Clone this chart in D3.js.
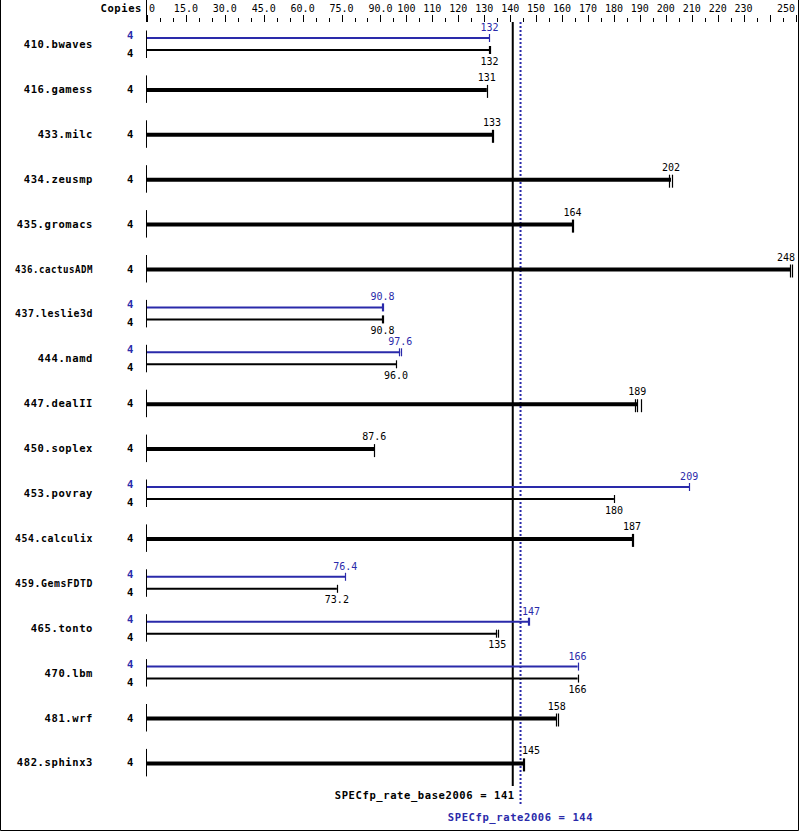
<!DOCTYPE html>
<html>
<head>
<meta charset="utf-8">
<script src="https://cdn.jsdelivr.net/npm/d3@7"></script>
<style>
  body { margin: 0; background: #fff; }
  text { font-family: "DejaVu Sans Mono", monospace; }
  .bold { font-weight: bold; font-size: 10.5px; letter-spacing: 0.6px; }
  .val { font-size: 10px; }
</style>
</head>
<body>
<script>
var W = 799, H = 831;
var blue = "#2a2aaa";

// benchmark rows
var benchmarks = ["410.bwaves", "416.gamess", "433.milc", "434.zeusmp", "435.gromacs",
  "436.cactusADM", "437.leslie3d", "444.namd", "447.dealII", "450.soplex", "453.povray",
  "454.calculix", "459.GemsFDTD", "465.tonto", "470.lbm", "481.wrf", "482.sphinx3"];
var copies = [4, 4, 4, 4, 4, 4, 4, 4, 4, 4, 4, 4, 4, 4, 4, 4, 4];
var baseRatio = [132, 131, 133, 202, 164, 248, 90.8, 96.0, 189, 87.6, 180, 187, 73.2, 135, 166, 158, 145];
// null = peak equals base (single thick bar)
var peakRatio = [132, null, null, null, null, null, 90.8, 97.6, null, null, 209, null, 76.4, 147, 166, null, null];
var baseLabels = ["132", "131", "133", "202", "164", "248", "90.8", "96.0", "189", "87.6", "180", "187", "73.2", "135", "166", "158", "145"];
var peakLabels = ["132", "", "", "", "", "", "90.8", "97.6", "", "", "209", "", "76.4", "147", "166", "", ""];
// individual run results (end marks)
var baseRuns = [[132, 132.4], [131], [133, 133.3], [201.3, 202.4], [164, 164.3], [247.9, 248.6],
  [90.6, 91], [96.0], [188, 189, 190.3], [87.6], [180], [187, 187.3], [73.2], [134.6, 135.4],
  [166], [157.8, 158.6], [145, 145.3]];
var peakRuns = [[132], [], [], [], [], [], [90.6, 91], [97.3, 97.8], [], [], [209], [], [76.4],
  [146.8, 147.3], [166], [], []];

var baseScore = 141, peakScore = 144;

// axis ticks
var minorTicks = d3.range(0, 251, 5);
var majorTicks = [0, 15, 30, 45, 60, 75, 90, 100, 110, 120, 130, 140, 150, 160, 170, 180, 190, 200, 210, 220, 230, 240, 250];
var tickLabels = ["0", "15.0", "30.0", "45.0", "60.0", "75.0", "90.0", "100", "110", "120", "130", "140", "150", "160", "170", "180", "190", "200", "210", "220", "230", "", "250"];

var x = d3.scaleLinear().domain([0, 250]).range([147, 795.5]);
var y = d3.scalePoint().domain(benchmarks).range([44, 762.4]);

var svg = d3.select("body").append("svg")
  .attr("width", W).attr("height", H);

// frame
svg.append("path")
  .attr("d", "M0.5,0 V" + (H - 0.5) + " H" + (W - 0.5) + " V0")
  .attr("fill", "none").attr("stroke", "#000");

// top axis
svg.append("text").attr("class", "bold")
  .attr("x", 142).attr("y", 12).attr("text-anchor", "end").text("Copies");
svg.append("line").attr("x1", 146.5).attr("x2", 146.5).attr("y1", 0).attr("y2", 22)
  .attr("stroke", "#000");
svg.selectAll(".minor").data(minorTicks).enter().append("line")
  .attr("x1", function(d) { return Math.round(x(d)) + 0.5; })
  .attr("x2", function(d) { return Math.round(x(d)) + 0.5; })
  .attr("y1", function(d) { return majorTicks.indexOf(d) >= 0 ? 15 : 18; })
  .attr("y2", 22)
  .attr("stroke", "#000");
svg.selectAll(".tlab").data(majorTicks).enter().append("text")
  .attr("class", "val")
  .attr("x", function(d, i) { return i == 0 ? 149 : (d == 250 ? 795 : x(d)); })
  .attr("y", 12)
  .attr("text-anchor", function(d, i) { return i == 0 ? "start" : (d == 250 ? "end" : "middle"); })
  .text(function(d, i) { return tickLabels[i]; });

// score lines
svg.append("line")
  .attr("x1", x(baseScore)).attr("x2", x(baseScore)).attr("y1", 22).attr("y2", 786)
  .attr("stroke", "#000").attr("stroke-width", 2);
svg.append("line")
  .attr("x1", x(peakScore)).attr("x2", x(peakScore)).attr("y1", 22).attr("y2", 806)
  .attr("stroke", blue).attr("stroke-width", 2).attr("stroke-dasharray", "2,2");
svg.append("text").attr("class", "bold")
  .attr("x", x(baseScore) + 2).attr("y", 799).attr("text-anchor", "end")
  .text("SPECfp_rate_base2006 = " + baseScore);
svg.append("text").attr("class", "bold").attr("fill", blue)
  .attr("x", x(peakScore)).attr("y", 821).attr("text-anchor", "middle")
  .text("SPECfp_rate2006 = " + peakScore);

// label position: centred on bar end, kept inside frame, moved off the peak line
function placeLabel(t, v, label) {
  var w = label.length * 6, cx = x(v), px = x(peakScore) + 1.5;
  if (cx + w / 2 > 795) { cx = 795 - w / 2; }
  if (cx - w / 2 < px && cx + w / 2 > px) { cx = px + w / 2; }
  t.attr("x", cx).attr("text-anchor", "middle");
}

function drawBar(g, cy, value, runs, color, thick, label, labelY) {
  g.append("line")
    .attr("x1", x(0)).attr("x2", x(value)).attr("y1", cy).attr("y2", cy)
    .attr("stroke", color).attr("stroke-width", thick ? 4 : 2);
  runs.forEach(function(r) {
    var rx = Math.round(x(r)) + 0.5;
    g.append("line")
      .attr("x1", rx).attr("x2", rx)
      .attr("y1", thick ? cy - 5 : cy - 4)
      .attr("y2", thick ? cy + 8 : cy + 4)
      .attr("stroke", color).attr("stroke-width", 1.2);
  });
  var t = g.append("text").attr("class", "val").attr("fill", color)
    .attr("y", labelY).text(label);
  placeLabel(t, value, label);
}

benchmarks.forEach(function(b, i) {
  var cy = y(b);
  var g = svg.append("g");
  var name = g.append("text").attr("class", "bold")
    .attr("x", 93).attr("y", cy + 4).attr("text-anchor", "end").text(b);
  // long names are squeezed so they start no further left than x=15
  if (name.node().getComputedTextLength() > 78) {
    name.attr("textLength", 78).attr("lengthAdjust", "spacingAndGlyphs");
  }
  g.append("line").attr("x1", 146.5).attr("x2", 146.5)
    .attr("y1", cy - 13.5).attr("y2", cy + 14).attr("stroke", "#000");
  if (peakRatio[i] == null) {
    g.append("text").attr("class", "bold")
      .attr("x", 134).attr("y", cy + 4).attr("text-anchor", "end").text(copies[i]);
    drawBar(g, cy + 1, baseRatio[i], baseRuns[i], "#000", true, baseLabels[i], cy - 8);
  } else {
    g.append("text").attr("class", "bold").attr("fill", blue)
      .attr("x", 134).attr("y", cy - 5).attr("text-anchor", "end").text(copies[i]);
    g.append("text").attr("class", "bold")
      .attr("x", 134).attr("y", cy + 13).attr("text-anchor", "end").text(copies[i]);
    drawBar(g, cy - 6, peakRatio[i], peakRuns[i], blue, false, peakLabels[i], cy - 13);
    drawBar(g, cy + 6, baseRatio[i], baseRuns[i], "#000", false, baseLabels[i], cy + 20.5);
  }
});
</script>
</body>
</html>
